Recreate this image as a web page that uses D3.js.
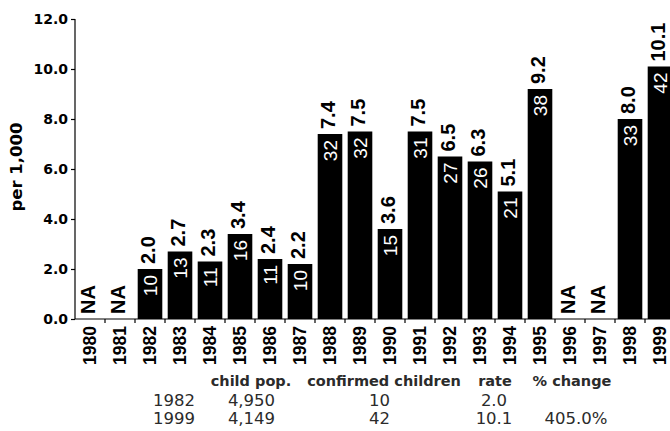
<!DOCTYPE html>
<html>
<head>
<meta charset="utf-8">
<script src="https://cdn.jsdelivr.net/npm/d3@7"></script>
<style>
  html, body { margin: 0; padding: 0; background: #fff; }
  svg { display: block; }
</style>
</head>
<body>
<svg id="chart" width="670" height="431"></svg>
<script>
// ---- data ----
const years = ["1980","1981","1982","1983","1984","1985","1986","1987","1988","1989",
               "1990","1991","1992","1993","1994","1995","1996","1997","1998","1999"];
const rates = [null, null, 2.0, 2.7, 2.3, 3.4, 2.4, 2.2, 7.4, 7.5,
               3.6, 7.5, 6.5, 6.3, 5.1, 9.2, null, null, 8.0, 10.1];
const counts = [null, null, 10, 13, 11, 16, 11, 10, 32, 32,
                15, 31, 27, 26, 21, 38, null, null, 33, 42];
const yTicks = [0, 2, 4, 6, 8, 10, 12];
const yLabel = "per 1,000";
const tableHeaders = ["child pop.", "confirmed children", "rate", "% change"];
const tableRows = [
  ["1982", "4,950", "10", "2.0", ""],
  ["1999", "4,149", "42", "10.1", "405.0%"]
];

// ---- layout ----
const svg = d3.select("#chart");
const mLeft = 75, mRight = 675, mTop = 19, mBottom = 319;
const rotFont = "'Liberation Sans', Arial, sans-serif";
const djFont = "'DejaVu Sans', Verdana, sans-serif";

const x = d3.scaleBand().domain(years).range([mLeft, mRight])
  .paddingInner(0.18).paddingOuter(0.09);
const y = d3.scaleLinear().domain([0, 12]).range([mBottom, mTop]);

const data = years.map((yr, i) => ({ year: yr, rate: rates[i], count: counts[i] }));

// bars
svg.append("g").selectAll("rect")
  .data(data.filter(d => d.rate !== null))
  .join("rect")
  .attr("x", d => x(d.year))
  .attr("y", d => y(d.rate))
  .attr("width", x.bandwidth())
  .attr("height", d => y(0) - y(d.rate))
  .attr("fill", "#000");

// y axis
const yAxis = svg.append("g")
  .attr("transform", `translate(${mLeft},0)`)
  .call(d3.axisLeft(y).tickValues(yTicks).tickFormat(d3.format(".1f")).tickSize(4).tickPadding(3));
yAxis.select(".domain").attr("stroke", "#000").attr("stroke-width", 1.2)
  .attr("d", `M0,${y(12)}V${y(0)}`);
yAxis.selectAll(".tick line").attr("stroke", "#000").attr("stroke-width", 1.2);
yAxis.selectAll(".tick text")
  .attr("font-family", djFont).attr("font-weight", "bold")
  .attr("font-size", "14px").attr("fill", "#000");

// x axis
const step = x.step();
const xg = svg.append("g");
xg.append("line")
  .attr("x1", mLeft).attr("x2", mRight)
  .attr("y1", y(0)).attr("y2", y(0))
  .attr("stroke", "#000").attr("stroke-width", 1.2);
xg.selectAll("line.tk")
  .data(years.slice(1))
  .join("line")
  .attr("class", "tk")
  .attr("x1", d => x(d) - step * x.paddingInner() / 2)
  .attr("x2", d => x(d) - step * x.paddingInner() / 2)
  .attr("y1", y(0)).attr("y2", y(0) + 4)
  .attr("stroke", "#000").attr("stroke-width", 1.2);
xg.selectAll("text")
  .data(years)
  .join("text")
  .attr("transform", d => `translate(${x(d) + x.bandwidth() / 2},${y(0) + 7}) rotate(-90)`)
  .attr("text-anchor", "end")
  .attr("dy", "0.35em")
  .attr("font-family", rotFont).attr("font-weight", "bold")
  .attr("font-size", "17.5px")
  .text(d => d);

// rate labels above bars (or NA)
svg.append("g").selectAll("text")
  .data(data)
  .join("text")
  .attr("transform", d => `translate(${x(d.year) + x.bandwidth() / 2 - 2},${y(d.rate === null ? 0 : d.rate) - 5}) rotate(-90)`)
  .attr("text-anchor", "start")
  .attr("dy", "0.35em")
  .attr("font-family", rotFont).attr("font-weight", "bold")
  .attr("font-size", "20px")
  .attr("fill", "#000")
  .text(d => d.rate === null ? "NA" : d3.format(".1f")(d.rate));

// count labels inside bars
svg.append("g").selectAll("text")
  .data(data.filter(d => d.count !== null))
  .join("text")
  .attr("transform", d => `translate(${x(d.year) + x.bandwidth() / 2},${y(d.rate) + 6}) rotate(-90)`)
  .attr("text-anchor", "end")
  .attr("dy", "0.35em")
  .attr("font-family", rotFont)
  .attr("font-size", "19px")
  .attr("fill", "#fff")
  .text(d => d.count);

// y label
svg.append("text")
  .attr("transform", "translate(16,167) rotate(-90)")
  .attr("text-anchor", "middle")
  .attr("dy", "0.35em")
  .attr("font-family", djFont).attr("font-weight", "bold")
  .attr("font-size", "16.5px")
  .text(yLabel);

// table below
const headerX = [251, 384, 495, 572];
const colX = [174, 251.5, 379.5, 494, 576];
const tg = svg.append("g").attr("fill", "#2b2b2b");
tg.selectAll("text.h")
  .data(tableHeaders)
  .join("text")
  .attr("class", "h")
  .attr("x", (d, i) => headerX[i])
  .attr("y", 386)
  .attr("text-anchor", "middle")
  .attr("font-family", djFont).attr("font-weight", "bold")
  .attr("font-size", "14.5px")
  .text(d => d);
tableRows.forEach((row, r) => {
  tg.selectAll(`text.r${r}`)
    .data(row)
    .join("text")
    .attr("class", `r${r}`)
    .attr("x", (d, i) => colX[i])
    .attr("y", 406 + r * 17.5)
    .attr("text-anchor", "middle")
    .attr("font-family", djFont)
    .attr("font-size", "16.5px")
    .text(d => d);
});
</script>
</body>
</html>
